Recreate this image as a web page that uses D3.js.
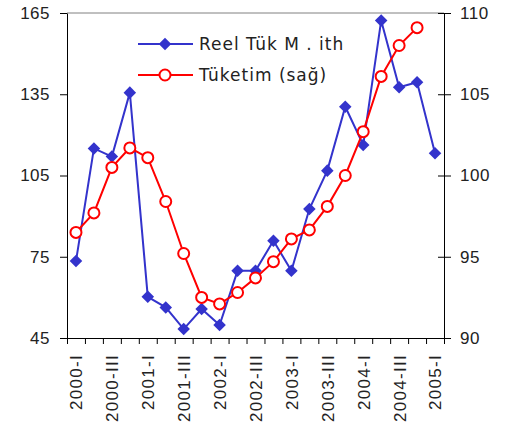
<!DOCTYPE html>
<head>
  <meta charset="utf-8" />
  <script src="https://d3js.org/d3.v7.min.js"></script>
  <style>
    body { margin: 0; background: #fff; }
    svg { display: block; font-family: "DejaVu Sans", sans-serif; }
  </style>
</head>
<body>
  <svg width="506" height="428"></svg>
  <script>
    var quarters = ["2000-I","2000-II","2000-III","2000-IV","2001-I","2001-II","2001-III","2001-IV",
      "2002-I","2002-II","2002-III","2002-IV","2003-I","2003-II","2003-III","2003-IV",
      "2004-I","2004-II","2004-III","2004-IV","2005-I"];
    // left axis series
    var reelTuk = [73.4, 115, 112, 135.6, 60.2, 56.3, 48.3, 55.7, 49.8, 69.8, 69.8, 80.9,
      69.8, 92.6, 106.8, 130.4, 116.3, 162.2, 137.6, 139.4, 113.2];
    // right axis series
    var tuketim = [96.5, 97.7, 100.5, 101.7, 101.1, 98.4, 95.2, 92.5, 92.1, 92.8, 93.7, 94.7,
      96.1, 96.65, 98.1, 100.0, 102.7, 106.1, 108.0, 109.1];
    var leftTicks = [45, 75, 105, 135, 165];
    var rightTicks = [90, 95, 100, 105, 110];
    var labelTicks = quarters.filter(function (d, i) { return i % 2 === 0; });

    var pLeft = 67, pRight = 444, pTop = 13, pBottom = 338;
    var blue = "#3333cc", red = "#ff0000";

    var svg = d3.select("svg");
    var bw = (pRight - pLeft) / quarters.length;
    var x = d3.scalePoint().domain(quarters).range([pLeft + bw / 2, pRight - bw / 2]);
    var xb = d3.scaleLinear().domain([0, quarters.length]).range([pLeft, pRight]);
    var yL = d3.scaleLinear().domain([45, 165]).range([pBottom, pTop]);
    var yR = d3.scaleLinear().domain([90, 110]).range([pBottom, pTop]);

    // top border
    svg.append("line").attr("x1", pLeft).attr("x2", pRight).attr("y1", pTop).attr("y2", pTop)
      .attr("stroke", "#808080").attr("stroke-width", 1);

    // left axis
    var gl = svg.append("g").attr("transform", "translate(" + pLeft + ",0)")
      .call(d3.axisLeft(yL).tickValues(leftTicks).tickSize(7).tickPadding(10).tickSizeOuter(0));
    gl.selectAll("text").attr("font-size", 17).attr("fill", "#222").attr("letter-spacing", 0.5);

    // right axis
    var gr = svg.append("g").attr("transform", "translate(" + pRight + ",0)")
      .call(d3.axisRight(yR).tickValues(rightTicks).tickSize(7).tickPadding(9).tickSizeOuter(0));
    gr.selectAll(".tick line").attr("x1", -6);
    gr.selectAll("text").attr("font-size", 17).attr("fill", "#222").attr("letter-spacing", 0.5);

    // bottom tick marks at category boundaries
    svg.append("g").attr("transform", "translate(0," + pBottom + ")")
      .call(d3.axisBottom(xb).tickValues(d3.range(quarters.length + 1)).tickFormat("").tickSize(6).tickSizeOuter(0));

    // bottom labels
    var gx = svg.append("g").attr("transform", "translate(0," + pBottom + ")")
      .call(d3.axisBottom(x).tickValues(labelTicks).tickSize(0));
    gx.select(".domain").remove();
    gx.selectAll("text")
      .attr("font-size", 17).attr("fill", "#222").attr("letter-spacing", 1.3)
      .attr("transform", "rotate(-90)")
      .attr("text-anchor", "end")
      .attr("x", -16).attr("y", 0).attr("dy", "0.35em");

    svg.selectAll(".domain").attr("stroke", "#000");

    var lineL = d3.line().x(function (d, i) { return x(quarters[i]); }).y(function (d) { return yL(d); });
    var lineR = d3.line().x(function (d, i) { return x(quarters[i]); }).y(function (d) { return yR(d); });
    var diamond = d3.symbol().type(d3.symbolDiamond2).size(100);

    // blue series
    svg.append("path").datum(reelTuk).attr("d", lineL)
      .attr("fill", "none").attr("stroke", blue).attr("stroke-width", 2);
    svg.selectAll(".dia").data(reelTuk).enter().append("path")
      .attr("transform", function (d, i) { return "translate(" + x(quarters[i]) + "," + yL(d) + ")"; })
      .attr("d", diamond).attr("fill", blue);

    // red series
    svg.append("path").datum(tuketim).attr("d", lineR)
      .attr("fill", "none").attr("stroke", red).attr("stroke-width", 2);
    svg.selectAll(".circ").data(tuketim).enter().append("circle")
      .attr("cx", function (d, i) { return x(quarters[i]); })
      .attr("cy", function (d) { return yR(d); })
      .attr("r", 5.5).attr("fill", "#fff").attr("stroke", red).attr("stroke-width", 2);

    // legend
    var lg = svg.append("g");
    lg.append("line").attr("x1", 138).attr("x2", 193).attr("y1", 44).attr("y2", 44)
      .attr("stroke", blue).attr("stroke-width", 2);
    lg.append("path").attr("transform", "translate(165,44)").attr("d", diamond).attr("fill", blue);
    lg.append("text").attr("x", 199).attr("y", 44).attr("dy", "0.35em").attr("letter-spacing", 1)
      .attr("font-size", 17).attr("fill", "#222").text("Reel Tük M . ith");
    lg.append("line").attr("x1", 138).attr("x2", 193).attr("y1", 75).attr("y2", 75)
      .attr("stroke", red).attr("stroke-width", 2);
    lg.append("circle").attr("cx", 165).attr("cy", 75).attr("r", 5.5)
      .attr("fill", "#fff").attr("stroke", red).attr("stroke-width", 2);
    lg.append("text").attr("x", 199).attr("y", 75).attr("dy", "0.35em").attr("letter-spacing", 1)
      .attr("font-size", 17).attr("fill", "#222").text("Tüketim (sağ)");
  </script>
</body>
